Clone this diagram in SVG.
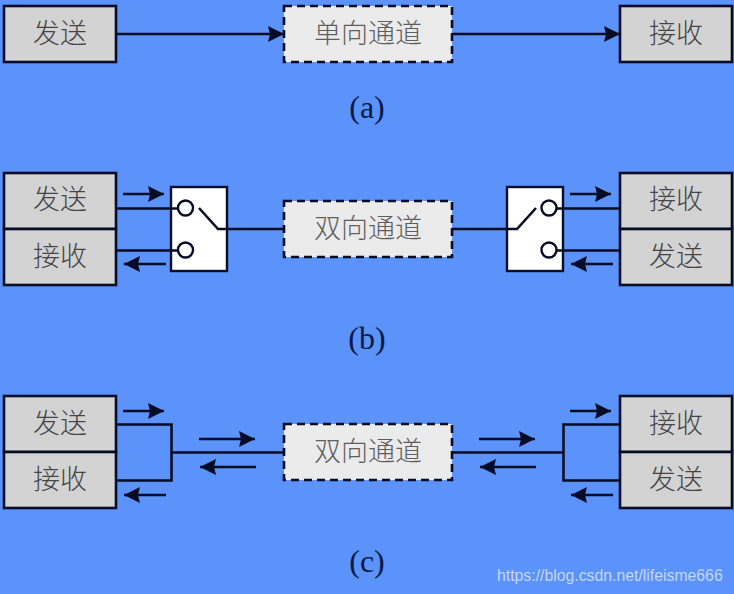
<svg xmlns="http://www.w3.org/2000/svg" width="734" height="594" viewBox="0 0 734 594">
<style>
.box{fill:#d3d3d3;stroke:#060c26;stroke-width:2.6}
.ch{fill:#ebebeb;stroke:#060c26;stroke-width:2.6;stroke-dasharray:8 5}
.sw{fill:#fff;stroke:#060c26;stroke-width:2.4}
.c{fill:#fff;stroke:#060c26;stroke-width:2.4}
.t{font-family:"Noto Sans CJK SC","Liberation Sans",sans-serif;font-size:27px;font-weight:300;fill:#444;text-anchor:middle}
.tc{fill:#5e5e5e}
.l{font-family:"Liberation Serif",serif;font-size:32px;fill:#0c1a44;text-anchor:middle}
.w{fill:none;stroke:#060c26;stroke-width:2.6}
.wa{fill:none;stroke:#060c26;stroke-width:2.6;marker-end:url(#a)}
</style>
<defs><marker id="a" markerUnits="userSpaceOnUse" markerWidth="17" markerHeight="18" refX="16" refY="9" orient="auto"><path d="M0 1L16 9L0 17L2 9Z" fill="#060c26"/></marker></defs>
<rect width="734" height="594" fill="#5b93fb"/>
<g id="a-send"><rect class="box" x="4" y="6" width="112" height="56"/><text class="t" x="60" y="43">发送</text></g>
<g id="a-channel"><rect class="ch" x="284" y="6" width="168" height="56"/><text class="t tc" x="368" y="43">单向通道</text></g>
<g id="a-recv"><rect class="box" x="620" y="6" width="112" height="56"/><text class="t" x="676" y="43">接收</text></g>
<text class="l" x="367" y="118">(a)</text>
<g id="b-send"><rect class="box" x="4" y="173" width="112" height="56"/><text class="t" x="60" y="209">发送</text></g>
<g id="b-recv"><rect class="box" x="4" y="229" width="112" height="56"/><text class="t" x="60" y="266">接收</text></g>
<g id="b-switch-l"><rect class="sw" x="171" y="187" width="56" height="84"/><circle class="c" cx="185.500" cy="208" r="7.500"/><circle class="c" cx="185.500" cy="250" r="7.500"/></g>
<g id="b-channel"><rect class="ch" x="284" y="201" width="168" height="56"/><text class="t tc" x="368" y="238">双向通道</text></g>
<g id="b-switch-r"><rect class="sw" x="507" y="187" width="56" height="84"/><circle class="c" cx="549" cy="208" r="7.500"/><circle class="c" cx="549" cy="250" r="7.500"/></g>
<g id="b-recv2"><rect class="box" x="620" y="173" width="112" height="56"/><text class="t" x="676" y="209">接收</text></g>
<g id="b-send2"><rect class="box" x="620" y="229" width="112" height="56"/><text class="t" x="676" y="266">发送</text></g>
<text class="l" x="367" y="349">(b)</text>
<g id="c-send"><rect class="box" x="4" y="396" width="112" height="56"/><text class="t" x="60" y="433">发送</text></g>
<g id="c-recv"><rect class="box" x="4" y="452" width="112" height="56"/><text class="t" x="60" y="489">接收</text></g>
<g id="c-channel"><rect class="ch" x="284" y="424" width="168" height="56"/><text class="t tc" x="368" y="461">双向通道</text></g>
<g id="c-recv2"><rect class="box" x="620" y="396" width="112" height="56"/><text class="t" x="676" y="433">接收</text></g>
<g id="c-send2"><rect class="box" x="620" y="452" width="112" height="56"/><text class="t" x="676" y="489">发送</text></g>
<text class="l" x="367" y="572">(c)</text>
<g id="connectors">
<path class="wa" d="M116 34H284"/><path class="wa" d="M452 34H620"/>
<path class="w" d="M116 208.500H178M116 250.500H178M199 208L218 229H284M452 229H517L536 208M556.500 208.500H620M556.500 250.500H620"/>
<path class="wa" d="M123 194H164"/><path class="wa" d="M166 264H124"/>
<path class="wa" d="M570 194H611"/><path class="wa" d="M613 264H571"/>
<path class="w" d="M116 424.500H171.500V480.500H116M171.500 452.500H284M452 452.500H563.500M620 424.500H563.500V480.500H620"/>
<path class="wa" d="M123 411H164"/><path class="wa" d="M166 495H124"/>
<path class="wa" d="M199 439H255"/><path class="wa" d="M256 467H200"/>
<path class="wa" d="M479 439H535"/><path class="wa" d="M536 467H480"/>
<path class="wa" d="M570 411H611"/><path class="wa" d="M613 495H571"/>
</g>
<text x="497" y="581" font-family="Liberation Sans,sans-serif" font-size="15.800px" fill="#c4d6f6">https://blog.csdn.net/lifeisme666</text>
</svg>
